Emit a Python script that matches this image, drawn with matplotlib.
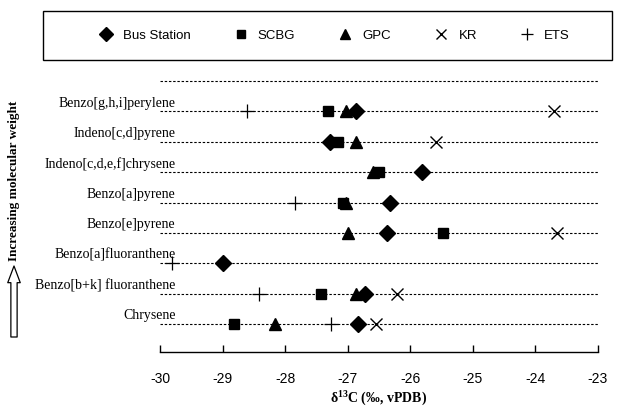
import numpy as np
import matplotlib
matplotlib.use("Agg")
import matplotlib.pyplot as plt
import matplotlib.patches as mpatches
from matplotlib.lines import Line2D

plt.rcParams["mathtext.fontset"] = "custom"
plt.rcParams["mathtext.rm"] = "Liberation Serif"
plt.rcParams["mathtext.bf"] = "Liberation Serif:bold"

# Categories bottom -> top
categories = ["Chrysene", "Benzo[b+k] fluoranthene", "Benzo[a]fluoranthene",
              "Benzo[e]pyrene", "Benzo[a]pyrene", "Indeno[c,d,e,f]chrysene",
              "Indeno[c,d]pyrene", "Benzo[g,h,i]perylene"]
nan = np.nan
bus_station = [-26.84, -26.72, -29.00, -26.37, -26.32, -25.82, -27.28, -26.86]
scbg        = [-28.81, -27.43, nan,    -25.47, -27.08, -26.50, -27.15, -27.31]
gpc         = [-28.17, -26.86, nan,    -26.99, -27.02, -26.60, -26.87, -27.03]
kr          = [-26.54, -26.21, nan,    -23.65, nan,    nan,    -25.59, -23.71]
ets         = [-27.26, -28.41, -29.81, nan,    -27.84, nan,    nan,    -28.61]
xticks = [-30, -29, -28, -27, -26, -25, -24, -23]

W, H = 627, 410
fig = plt.figure(figsize=(W / 100, H / 100), dpi=100)
left, right = 160 / W, 598 / W
ybot_px, ytop_px = 353, 72.9
ax = fig.add_axes([left, 1 - ybot_px / H, right - left, (ybot_px - ytop_px) / H])

ypos = np.arange(1, len(categories) + 1)
ax.set_xlim(-30, -23)
ax.set_ylim(0.08, 9.3)

for y in list(ypos) + [9]:
    ax.axhline(y, color="black", lw=0.8, ls=(0, (2.2, 1.6)), zorder=1)

series = [
    ("Bus Station", bus_station, dict(marker="D", ms=8, mfc="black", mec="black")),
    ("SCBG", scbg, dict(marker="s", ms=7, mfc="black", mec="black")),
    ("GPC", gpc, dict(marker="^", ms=8.5, mfc="black", mec="black")),
    ("KR", kr, dict(marker="x", ms=8, mew=1.0, color="black")),
    ("ETS", ets, dict(marker="+", ms=10, mew=0.9, color="black")),
]
handles = []
for name, vals, st in series:
    ax.plot(vals, ypos, ls="none", zorder=3, **st)
    hst = dict(st)
    hst["ms"] = st["ms"] * 0.85
    handles.append(Line2D([], [], ls="none", label=name, **hst))

for y, lab in zip(ypos, categories):
    ax.text(-29.75, y + 0.3, lab, ha="right", va="center",
            family="Liberation Serif", fontsize=10)

for s in ["left", "top", "right"]:
    ax.spines[s].set_visible(False)
ax.spines["bottom"].set_linewidth(1.0)
ax.set_yticks([])
ax.set_xticks(xticks)
ax.set_xticklabels([str(t) for t in xticks], family="Liberation Sans", fontsize=10)
ax.tick_params(axis="x", direction="in", length=5, width=1.0, pad=14)
ax.set_xlabel(r"δ$^{\mathbf{13}}$C (‰, vPDB)", family="Liberation Serif",
              fontweight="bold", fontsize=10, labelpad=1)

# y label and arrow
fig.text(14 / W, 1 - 181 / H, "Increasing molecular weight", rotation=90,
         ha="center", va="center", family="Liberation Serif", fontweight="bold",
         fontsize=9.5)
arrow = mpatches.FancyArrowPatch(
    (14 / W, 1 - 338 / H), (14 / W, 1 - 267 / H), transform=fig.transFigure,
    arrowstyle=mpatches.ArrowStyle.Simple(head_length=1.2, head_width=0.9, tail_width=0.45),
    mutation_scale=10, facecolor="white", edgecolor="black", lw=0.9,
    shrinkA=0, shrinkB=0)
fig.patches.append(arrow)

# legend box
box = mpatches.Rectangle((43 / W, 1 - 61 / H), (612 - 43) / W, 49 / H,
                         transform=fig.transFigure, fill=False, edgecolor="black", lw=1.0)
fig.patches.append(box)
fig.legend(handles=handles, loc="center", bbox_to_anchor=(0.5336, 1 - 36 / H),
           ncol=5, frameon=False, handlelength=1.0, handletextpad=0.8,
           columnspacing=3.3, prop=dict(family="Liberation Sans", size=9.5))

fig.savefig("out.png", dpi=100)
